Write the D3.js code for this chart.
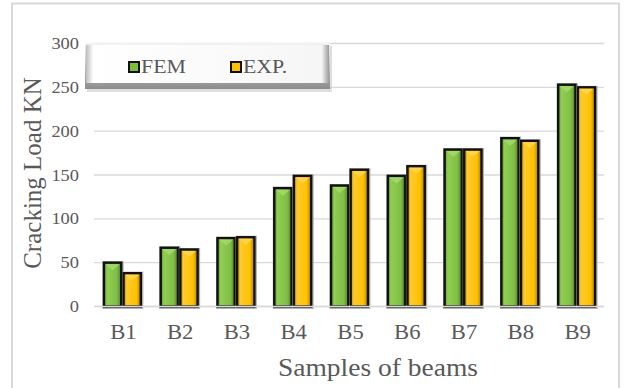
<!DOCTYPE html>
<html>
<head>
<meta charset="utf-8">
<script src="https://cdn.jsdelivr.net/npm/d3@7"></script>
<style>
  body { margin: 0; background: #fff; }
  svg text { font-family: "Liberation Serif", "Times New Roman", serif; fill: #595959; }
</style>
</head>
<body>
<svg id="chart"></svg>
<script>
// data
const beams = ['B1', 'B2', 'B3', 'B4', 'B5', 'B6', 'B7', 'B8', 'B9']
const fem = [50, 67, 78, 135, 138, 149, 179, 192, 253]
const exp = [38, 65, 79, 149, 156, 160, 179, 189, 250]
const seriesNames = ['FEM', 'EXP.']
const yTicks = [0, 50, 100, 150, 200, 250, 300]

const w = 624
const h = 388
const m = { top: 43.5, right: 19, bottom: 81.5, left: 94 }
const serif = '"Liberation Serif", "Times New Roman", serif'

const svg = d3.select('#chart')
    .attr('width', w)
    .attr('height', h)

const defs = svg.append('defs')

// bevel-ish gradients for the bars
const grad = (id, stops) => {
    const g = defs.append('linearGradient').attr('id', id)
        .attr('x1', 0).attr('x2', 1).attr('y1', 0).attr('y2', 0)
    stops.forEach(s => g.append('stop').attr('offset', s[0]).attr('stop-color', s[1]))
}
grad('gFem', [[0, '#5a8a2e'], [0.18, '#8fcf52'], [0.75, '#80be45'], [1, '#4f7d25']])
grad('gExp', [[0, '#b48600'], [0.18, '#ffca2e'], [0.75, '#ffc000'], [1, '#a97d00']])

const legV = defs.append('linearGradient').attr('id', 'legOuter')
    .attr('x1', 0).attr('x2', 0).attr('y1', 0).attr('y2', 1)
legV.append('stop').attr('offset', 0).attr('stop-color', '#f4f4f4')
legV.append('stop').attr('offset', 1).attr('stop-color', '#8c8c8c')
const legH = defs.append('linearGradient').attr('id', 'legSide')
    .attr('x1', 0).attr('x2', 1).attr('y1', 0).attr('y2', 0)
legH.append('stop').attr('offset', 0).attr('stop-color', '#bdbdbd')
legH.append('stop').attr('offset', 0.03).attr('stop-color', '#ffffff')
legH.append('stop').attr('offset', 0.97).attr('stop-color', '#f6f6f6')
legH.append('stop').attr('offset', 1).attr('stop-color', '#9a9a9a')

// outer frame
svg.append('rect')
    .attr('x', 12).attr('y', 3.5)
    .attr('width', 607).attr('height', 400)
    .attr('fill', '#fff')
    .attr('stroke', '#d9d9d9')
    .attr('stroke-width', 2)

const x = d3.scaleBand()
    .domain(beams)
    .range([m.left, w - m.right])
    .paddingInner(0.35)
    .paddingOuter(0.175)

const xs = d3.scaleBand()
    .domain(seriesNames)
    .range([0, x.bandwidth()])
    .paddingInner(0.12)

const y = d3.scaleLinear()
    .domain([0, 300])
    .range([h - m.bottom, m.top])

// gridlines
svg.append('g')
    .selectAll('line')
    .data(yTicks)
    .join('line')
    .attr('x1', m.left).attr('x2', w - m.right - 1)
    .attr('y1', d => y(d)).attr('y2', d => y(d))
    .attr('stroke', '#d9d9d9')
    .attr('stroke-width', 1.3)

// y axis labels
const yAxis = d3.axisLeft(y).tickValues(yTicks).tickSize(0).tickPadding(0)
const gy = svg.append('g')
    .attr('transform', `translate(${m.left - 15}, 0)`)
    .call(yAxis)
    .attr('font-family', serif)
gy.select('.domain').remove()
gy.selectAll('text')
    .attr('font-size', 16)
    .attr('transform', 'scale(1.15,1)')
    .attr('fill', '#595959')

// x axis labels
const xAxis = d3.axisBottom(x).tickSize(0).tickPadding(0)
const gx = svg.append('g')
    .attr('transform', `translate(0, ${h - m.bottom + 18})`)
    .call(xAxis)
    .attr('font-family', serif)
gx.select('.domain').remove()
gx.selectAll('text')
    .attr('font-size', 21)
    .attr('transform', 'scale(1.08,1)')
    .attr('fill', '#595959')
gx.selectAll('.tick').attr('transform', d => `translate(${x(d) + x.bandwidth() / 2 + 1},0)`)

// bars
const rows = beams.map((b, i) => ({ beam: b, vals: [fem[i], exp[i]] }))
const groups = svg.append('g')
    .selectAll('g')
    .data(rows)
    .join('g')
    .attr('transform', d => `translate(${x(d.beam)},0)`)

const bars = groups.selectAll('g.bar')
    .data(d => d.vals.map((v, j) => ({ name: seriesNames[j], v })))
    .join('g')
    .attr('class', 'bar')

bars.append('rect')
    .attr('x', d => xs(d.name) + 0.5)
    .attr('y', d => y(d.v) + 0.5)
    .attr('width', xs.bandwidth())
    .attr('height', d => y(0) - y(d.v))
    .attr('fill', 'none')
    .attr('stroke', '#b0b0b0')
    .attr('stroke-width', 4)

bars.append('rect')
    .attr('x', d => xs(d.name))
    .attr('y', d => y(d.v))
    .attr('width', xs.bandwidth())
    .attr('height', d => y(0) - y(d.v))
    .attr('fill', d => d.name === 'FEM' ? 'url(#gFem)' : 'url(#gExp)')
    .attr('stroke', '#111')
    .attr('stroke-width', 2.4)

// little lighter facet at the top of each bar
bars.append('path')
    .attr('d', d => {
        const x0 = xs(d.name) + 1.5, x1 = xs(d.name) + xs.bandwidth() - 1.5
        const t = y(d.v) + 1.5
        return `M${x0},${t}L${x1},${t}L${(x0 + x1) / 2},${t + 6}Z`
    })
    .attr('fill', d => d.name === 'FEM' ? '#a6dc6e' : '#ffd659')
    .attr('opacity', 0.8)

// x axis base line
svg.append('line')
    .attr('x1', m.left).attr('x2', w - m.right - 1)
    .attr('y1', y(0)).attr('y2', y(0))
    .attr('stroke', '#d9d9d9')
    .attr('stroke-width', 1.5)

// axis titles
svg.append('text')
    .attr('transform', `translate(41, ${(y(0) + y(300)) / 2 - 2}) rotate(-90)`)
    .attr('text-anchor', 'middle')
    .attr('font-size', 25)
    .text('Cracking Load KN')

svg.append('text')
    .attr('x', 378 / 1.1)
    .attr('y', 376)
    .attr('transform', 'scale(1.1,1)')
    .attr('text-anchor', 'middle')
    .attr('font-size', 25)
    .text('Samples of beams')

// legend
const leg = svg.append('g')
leg.append('rect')
    .attr('x', 87).attr('y', 46)
    .attr('width', 245).attr('height', 46)
    .attr('fill', '#c8c8c8')
    .attr('opacity', 0.6)
leg.append('rect')
    .attr('x', 85).attr('y', 43)
    .attr('width', 245).attr('height', 46)
    .attr('fill', 'url(#legOuter)')
leg.append('rect')
    .attr('x', 86).attr('y', 45)
    .attr('width', 243).attr('height', 38)
    .attr('fill', 'url(#legSide)')

const legX = [129, 231]
seriesNames.forEach((s, i) => {
    leg.append('rect')
        .attr('x', legX[i]).attr('y', 62)
        .attr('width', 10).attr('height', 10)
        .attr('fill', i === 0 ? '#7cbf3f' : '#ffc000')
        .attr('stroke', '#111')
        .attr('stroke-width', 2)
    leg.append('text')
        .attr('x', (legX[i] + 12) / 1.15)
        .attr('y', 73)
        .attr('transform', 'scale(1.15,1)')
        .attr('font-size', 19)
        .text(s)
})
</script>
</body>
</html>
